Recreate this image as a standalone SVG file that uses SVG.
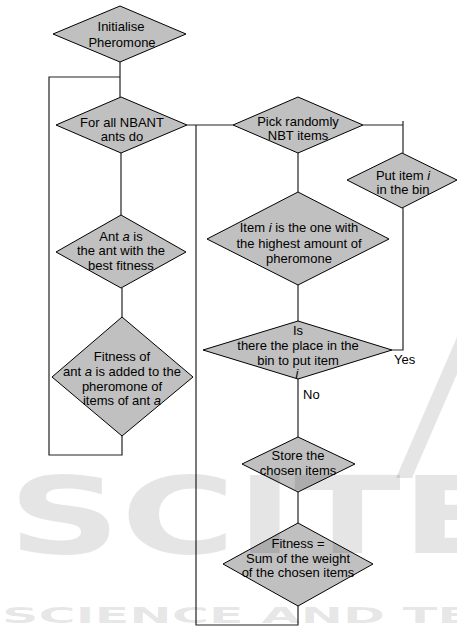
<svg xmlns="http://www.w3.org/2000/svg" width="457" height="628" viewBox="0 0 457 628">
<style>
.d{fill:#c0c0c0;stroke:#000;stroke-width:1}
.t{font-family:"Liberation Sans",Arial,sans-serif;font-size:13px;fill:#000;text-anchor:middle}
.l{font-family:"Liberation Sans",Arial,sans-serif;font-size:13px;fill:#000}
.c{fill:none;stroke:#222;stroke-width:1.2}
.w{font-family:"DejaVu Sans",sans-serif;font-weight:bold;fill:#000;fill-opacity:0.1}
</style>
<rect width="457" height="628" fill="#fff"/>
<g id="connectors">
<path class="c" d="M120,62V97"/>
<path class="c" d="M120,77H49V455H122V436"/>
<path class="c" d="M121,153V215"/>
<path class="c" d="M122,288V317"/>
<path class="c" d="M187,125H233"/>
<path class="c" d="M196,125V625H298V606"/>
<path class="c" d="M363,125H403"/>
<path class="c" d="M403,121V153"/>
<path class="c" d="M298,153V192"/>
<path class="c" d="M298,285V321"/>
<path class="c" d="M392,350H403V208"/>
<path class="c" d="M298,379V437"/>
<path class="c" d="M298,492V523"/>
<text class="l" x="394" y="364">Yes</text>
<text class="l" x="303" y="399">No</text>
</g>
<g id="n1"><polygon class="d" points="53,34 120,6 186,34 120,62"/>
<text class="t" x="121" y="30.5">Initialise</text><text class="t" x="122" y="46.5">Pheromone</text></g>
<g id="n2"><polygon class="d" points="56,125 121,97 187,125 121,153"/>
<text class="t" x="122" y="126.5">For all NBANT</text><text class="t" x="122" y="140.5">ants do</text></g>
<g id="n3"><polygon class="d" points="56,252 121,215 186,252 121,288"/>
<text class="t" x="121" y="240.5">Ant <tspan font-style="italic">a</tspan> is</text><text class="t" x="121" y="255">the ant with the</text><text class="t" x="121" y="269.5">best fitness</text></g>
<g id="n4"><polygon class="d" points="52,377 122,317 193,377 122,436"/>
<text class="t" x="122" y="360.5">Fitness of</text><text class="t" x="122" y="375.5">ant <tspan font-style="italic">a</tspan> is added to the</text><text class="t" x="122" y="390.5">pheromone of</text><text class="t" x="122" y="404.5">items of ant <tspan font-style="italic">a</tspan></text></g>
<g id="n5"><polygon class="d" points="233,125 298,97 363,125 298,153"/>
<text class="t" x="298" y="125.5">Pick randomly</text><text class="t" x="298" y="139.5">NBT items</text></g>
<g id="n6"><polygon class="d" points="347,180 402,153 457,180 402,208"/>
<text class="t" x="403" y="179.5">Put item <tspan font-style="italic">i</tspan></text><text class="t" x="403" y="193.5">in the bin</text></g>
<g id="n7"><polygon class="d" points="207,239 298,192 389,239 298,285"/>
<text class="t" x="299" y="231.5">Item <tspan font-style="italic">i</tspan> is the one with</text><text class="t" x="299" y="247.5">the highest amount of</text><text class="t" x="299" y="262.5">pheromone</text></g>
<g id="n8"><polygon class="d" points="203,350 298,321 392,350 298,379"/>
<text class="t" x="298" y="334.5">Is</text><text class="t" x="298" y="349.5">there the place in the</text><text class="t" x="298" y="364.5">bin to put item</text><text class="t" x="297" y="377.5" font-style="italic">i</text></g>
<g id="n9"><polygon class="d" points="242,464 298,437 355,464 298,492"/>
<text class="t" x="298" y="459.5">Store the</text><text class="t" x="298" y="474.5">chosen items</text></g>
<g id="n10"><polygon class="d" points="223,564 298,523 373,564 298,606"/>
<text class="t" x="298" y="547.5">Fitness =</text><text class="t" x="298" y="562.5">Sum of the weight</text><text class="t" x="298" y="576.5">of the chosen items</text></g>
<g id="watermark">
<text class="w" x="8" y="553" font-size="107" textLength="500" lengthAdjust="spacingAndGlyphs">SCITE</text>
<polygon fill="#000" fill-opacity="0.1" points="460,330 476,330 412,478 396,478"/>
<text class="w" x="2" y="623" font-size="22" textLength="470" lengthAdjust="spacingAndGlyphs">SCIENCE AND TE</text>
</g>
</svg>
